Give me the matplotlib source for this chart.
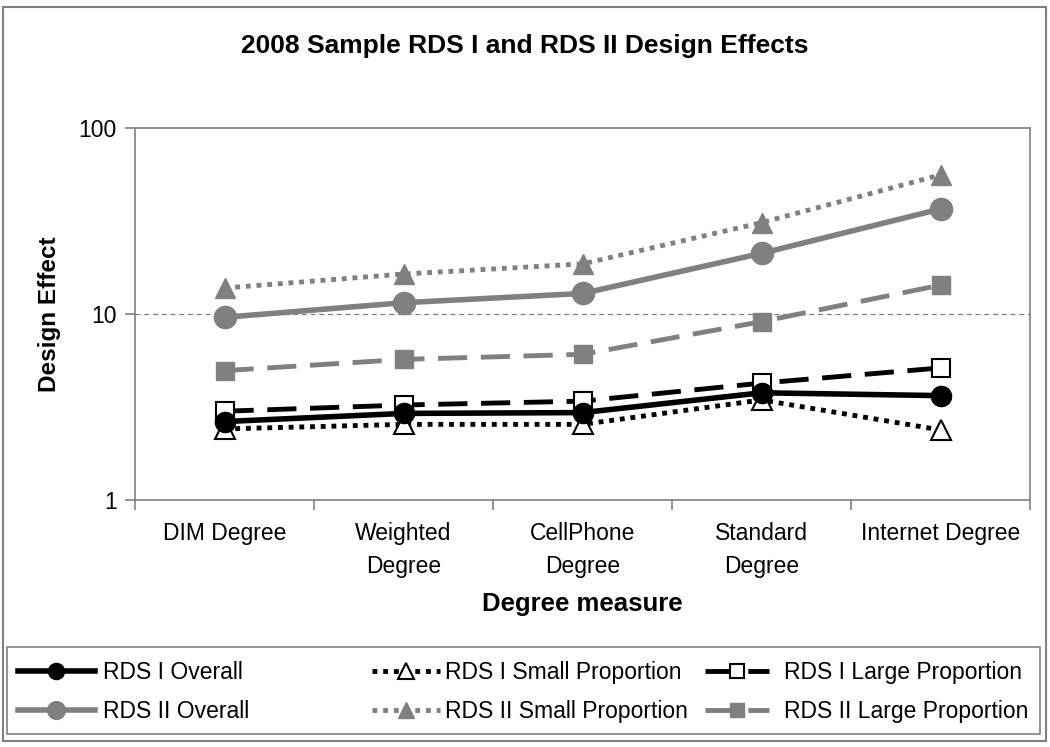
import numpy as np
import matplotlib
matplotlib.use('Agg')
import matplotlib.pyplot as plt
from matplotlib.patches import Rectangle

plt.rcParams['font.family'] = ['Liberation Sans', 'DejaVu Sans']

# data
categories = ['DIM Degree', 'Weighted\nDegree', 'CellPhone\nDegree', 'Standard\nDegree', 'Internet Degree']
rds1_overall = [2.64, 2.92, 2.95, 3.77, 3.64]
rds2_overall = [9.6, 11.5, 12.9, 21.2, 36.7]
rds1_small = [2.41, 2.55, 2.55, 3.45, 2.38]
rds2_small = [13.8, 16.4, 18.6, 31.0, 56.0]
rds1_large = [3.0, 3.24, 3.4, 4.25, 5.13]
rds2_large = [4.96, 5.7, 6.07, 9.1, 14.3]

black = 'black'
grey = '#808080'
dot = (1, 1.2)
dash = (6, 2.8)

fig = plt.figure(figsize=(10.5, 7.47), dpi=100)
ax = fig.add_axes([0.1286, 0.3307, 0.8524, 0.4979])
x = np.arange(len(categories))

h_ii_small, = ax.plot(x, rds2_small, color=grey, lw=3.5, dashes=dot, dash_capstyle='butt',
                      marker='^', ms=14, mfc=grey, mec=grey, label='RDS II Small Proportion')
h_ii_overall, = ax.plot(x, rds2_overall, color=grey, lw=4, marker='o', ms=16,
                        mfc=grey, mec=grey, label='RDS II Overall')
h_ii_large, = ax.plot(x, rds2_large, color=grey, lw=3.5, dashes=dash, dash_capstyle='butt',
                      marker='s', ms=13, mfc=grey, mec=grey, label='RDS II Large Proportion')
h_i_large, = ax.plot(x, rds1_large, color=black, lw=3.5, dashes=dash, dash_capstyle='butt',
                     marker='s', ms=13, mfc='white', mec=black, mew=1.5, label='RDS I Large Proportion')
h_i_small, = ax.plot(x, rds1_small, color=black, lw=3.5, dashes=dot, dash_capstyle='butt',
                     marker='^', ms=14, mfc='white', mec=black, mew=1.5, label='RDS I Small Proportion')
h_i_overall, = ax.plot(x, rds1_overall, color=black, lw=4, marker='o', ms=14.5,
                       mfc=black, mec=black, label='RDS I Overall')

ax.set_yscale('log')
ax.set_ylim(1, 100)
ax.set_xlim(-0.5, len(categories) - 0.5)
ax.set_yticks([1, 10, 100])
ax.set_yticklabels(['1', '10', '100'])
ax.minorticks_off()
ax.axhline(10, color=grey, lw=0.9, ls=(0, (4, 3)), zorder=0)

ax.set_xticks(np.arange(-0.5, len(categories), 1))
ax.set_xticklabels([])
ax.set_xticks(x, minor=True)
ax.set_xticklabels(categories, minor=True, fontsize=16.5, linespacing=1.55)
ax.tick_params(axis='x', which='minor', length=0, pad=16)
ax.tick_params(axis='x', which='major', length=7, color=grey, width=1.2)
ax.tick_params(axis='y', length=7, color=grey, width=1.2, labelsize=16.5, pad=6)
for s in ax.spines.values():
    s.set_color(grey)
    s.set_linewidth(1.2)

ax.set_ylabel('Design Effect', fontsize=17.5, fontweight='bold', labelpad=13)
ax.set_xlabel('Degree measure', fontsize=18.5, fontweight='bold', labelpad=10)
fig.suptitle('2008 Sample RDS I and RDS II Design Effects', fontsize=19, fontweight='bold',
             y=0.938, va='center')

# legend: three single-column legends inside one frame
cols = [([h_i_overall, h_ii_overall], 0.0171, 3.35, 0.35),
        ([h_i_small, h_ii_small], 0.354, 3.0, 0.2),
        ([h_i_large, h_ii_large], 0.671, 2.8, 0.65)]
for hs, x0, hl, tp in cols:
    leg = fig.legend(handles=hs, labels=[h.get_label() for h in hs], loc='upper left',
                     bbox_to_anchor=(x0, 0.115), fontsize=16.5, frameon=False,
                     handlelength=hl, handletextpad=tp, borderpad=0, borderaxespad=0,
                     labelspacing=0.7, markerscale=0.8)

fig.patches.append(Rectangle((0.0067, 0.0174), 0.984, 0.1165, transform=fig.transFigure,
                             fill=False, edgecolor=grey, lw=1.2))
fig.patches.append(Rectangle((0.003, 0.008), 0.993, 0.983, transform=fig.transFigure,
                             fill=False, edgecolor=grey, lw=1.5))

fig.savefig('out.png', dpi=100)
